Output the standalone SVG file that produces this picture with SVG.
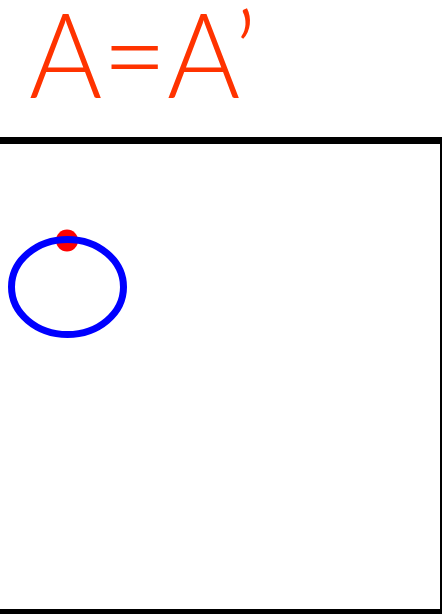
<svg xmlns="http://www.w3.org/2000/svg" width="442" height="614" viewBox="0 0 442 614">
<style>
.title{font-family:Lato,"Open Sans","Liberation Sans",sans-serif;font-weight:300;font-size:118px;fill:#ff3300}
.frame{stroke:#000;fill:none}
</style>
<rect width="442" height="614" fill="#fff"/>
<g id="title"><text class="title" x="29" y="98" textLength="228" lengthAdjust="spacingAndGlyphs">A=A’</text></g>
<g id="frame">
<line class="frame" x1="0" y1="140.5" x2="442" y2="140.5" stroke-width="7"/>
<line class="frame" x1="441" y1="137" x2="441" y2="614" stroke-width="2"/>
<line class="frame" x1="0" y1="611.5" x2="442" y2="611.5" stroke-width="5"/>
</g>
<g id="dot"><circle cx="67" cy="240.5" r="11" fill="#ff0000"/></g>
<g id="ellipse"><ellipse cx="67.5" cy="287" rx="56" ry="47.5" fill="none" stroke="#0000ff" stroke-width="7"/></g>
</svg>
